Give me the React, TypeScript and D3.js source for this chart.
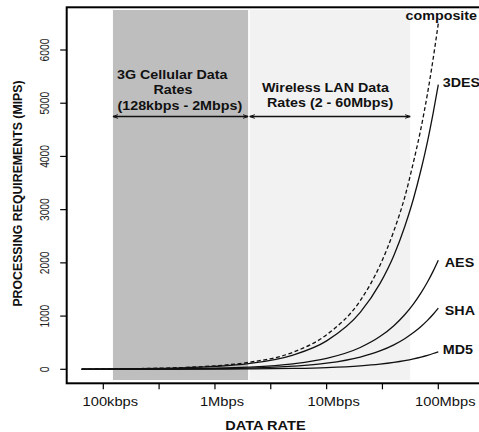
import React from "react";
import * as d3 from "d3";

// Data rate samples (Mbps)
const rates = [0.064, 0.1, 0.2, 0.5, 1, 2, 5, 10, 20, 30, 40, 50, 60, 70, 80, 90, 100];

// Processing requirements (MIPS)
const composite = [4, 6.5, 13, 32, 65, 130, 320, 650, 1290, 1950, 2600, 3230, 3900, 4530, 5180, 5840, 6500];
const des3 = [3.4, 5.4, 11, 27, 54, 107, 268, 535, 1070, 1610, 2140, 2680, 3210, 3750, 4280, 4820, 5350];
const aes = [1.3, 2, 4.1, 10, 20, 41, 103, 205, 410, 615, 820, 1025, 1230, 1435, 1640, 1845, 2050];
const sha = [0.7, 1.2, 2.3, 5.8, 11.5, 23, 58, 115, 230, 345, 460, 575, 690, 805, 920, 1035, 1150];
const md5 = [0.2, 0.3, 0.7, 1.7, 3.3, 6.6, 16.5, 33, 66, 99, 132, 165, 198, 231, 264, 297, 330];

const seriesNames = ["composite", "3DES", "AES", "SHA", "MD5"];
const seriesValues = [composite, des3, aes, sha, md5];

// Shaded ranges (Mbps)
const cellularRange = [0.122, 1.98];
const wlanRange = [2.05, 56];

// Axis ticks
const xMajorTicks = [0.1, 1, 10, 100];
const xMajorLabels = ["100kbps", "1Mbps", "10Mbps", "100Mbps"];
const xMinorTicks = [0.316, 3.16, 31.6];
const yTicks = [0, 1000, 2000, 3000, 4000, 5000, 6000];

const FONT = "'Liberation Sans', Arial, Helvetica, sans-serif";

export default function App() {
  const W = 479;
  const H = 432;
  const plotLeft = 66.7;
  const plotTop = 7.3;
  const plotBottom = 383.3;

  const x = d3.scaleLog().domain([0.1, 100]).range([103.3, 438.3]);
  const y = d3.scaleLinear().domain([0, 6000]).range([369.3, 50]);

  const line = d3
    .line<number>()
    .x((_, i) => x(rates[i]))
    .y((d) => y(d))
    .curve(d3.curveMonotoneX);

  const shadeTop = plotTop + 2.7;
  const shadeBottom = plotBottom - 3.3;
  const arrowY = 116.5;

  const arrow = (x1: number, x2: number, key: string) => {
    const h = 5;
    const w = 1.8;
    return (
      <g key={key} stroke="#111" strokeWidth={1.6} fill="none">
        <line x1={x1} y1={arrowY} x2={x2} y2={arrowY} />
        <path d={`M${x1 + h},${arrowY - w} L${x1},${arrowY} L${x1 + h},${arrowY + w}`} strokeWidth={1} />
        <path d={`M${x2 - h},${arrowY - w} L${x2},${arrowY} L${x2 - h},${arrowY + w}`} strokeWidth={1} />
      </g>
    );
  };

  const hText = (
    txt: string,
    tx: number,
    ty: number,
    opts: { anchor?: string; weight?: string; size?: number; sx?: number } = {}
  ) => (
    <g key={txt + tx + ty} transform={`translate(${tx},${ty}) scale(${opts.sx ?? 1.1},1)`}>
      <text
        x={0}
        y={0}
        textAnchor={opts.anchor ?? "start"}
        fontFamily={FONT}
        fontSize={opts.size ?? 13}
        fontWeight={opts.weight ?? "bold"}
        fill="#111"
      >
        {txt}
      </text>
    </g>
  );

  const endIdx = rates.length - 1;
  const labelDy = [-3.5, 2.5, 7, 7, 2.5];
  const labelDx = [3, 4.5, 6.5, 6.5, 4.5];

  return (
    <svg
      width={W}
      height={H}
      style={{ position: "absolute", left: 0, top: 0, background: "#fff" }}
    >
      <rect x={0} y={0} width={W} height={H} fill="#fff" />
      {/* shaded regions */}
      <rect
        x={x(cellularRange[0])}
        y={shadeTop}
        width={x(cellularRange[1]) - x(cellularRange[0])}
        height={shadeBottom - shadeTop}
        fill="#bebebe"
      />
      <rect
        x={x(wlanRange[0])}
        y={shadeTop}
        width={x(wlanRange[1]) - x(wlanRange[0])}
        height={shadeBottom - shadeTop}
        fill="#f2f2f2"
      />

      {/* annotations */}
      {hText("3G Cellular Data", 117, 78.5)}
      {hText("Rates", 173, 94.3, { anchor: "middle" })}
      {hText("(128kbps - 2Mbps)", 117.5, 110)}
      {arrow(x(cellularRange[0]), x(cellularRange[1]), "a1")}
      {hText("Wireless LAN Data", 262, 91.7)}
      {hText("Rates (2 - 60Mbps)", 267, 106.7)}
      {arrow(x(wlanRange[0]), x(wlanRange[1]), "a2")}

      {/* series */}
      {seriesValues.map((vals, i) => (
        <path
          key={seriesNames[i]}
          d={line(vals) ?? ""}
          fill="none"
          stroke="#111"
          strokeWidth={1.3}
          strokeDasharray={i === 0 ? "4,2.5" : undefined}
        />
      ))}
      {seriesValues.map((vals, i) =>
        hText(
          seriesNames[i],
          x(rates[endIdx]) + (i === 0 ? labelDx[0] : labelDx[i]),
          y(vals[endIdx]) + labelDy[i],
          { anchor: i === 0 ? "middle" : "start" }
        )
      )}

      {/* box */}
      <rect
        x={plotLeft}
        y={plotTop}
        width={W + 20 - plotLeft}
        height={plotBottom - plotTop}
        fill="none"
        stroke="#000"
        strokeWidth={2}
      />

      {/* y axis ticks */}
      {yTicks.map((t) => (
        <g key={"y" + t}>
          <line x1={plotLeft - 6.5} x2={plotLeft} y1={y(t)} y2={y(t)} stroke="#000" strokeWidth={1.2} />
          <g transform={`translate(48.8,${y(t)}) rotate(-90) scale(0.76,1)`}>
            <text textAnchor="middle" fontFamily={FONT} fontSize={13.5} fill="#222">
              {t}
            </text>
          </g>
        </g>
      ))}

      {/* x axis ticks */}
      {xMajorTicks.map((t, i) => (
        <g key={"x" + t}>
          <line x1={x(t)} x2={x(t)} y1={plotBottom} y2={plotBottom + 6} stroke="#000" strokeWidth={1.2} />
          {hText(xMajorLabels[i], x(t) + 7, 405.7, { anchor: "middle", weight: "normal", sx: 1.13 })}
        </g>
      ))}
      {xMinorTicks.map((t) => (
        <line key={"xm" + t} x1={x(t)} x2={x(t)} y1={plotBottom} y2={plotBottom + 6} stroke="#000" strokeWidth={1.2} />
      ))}

      {/* axis titles */}
      {hText("DATA RATE", 265.5, 429.5, { anchor: "middle", weight: "bold", sx: 1.12 })}
      <g transform={`translate(21.7,193.5) rotate(-90)`}>
        <text textAnchor="middle" fontFamily={FONT} fontSize={12.3} fontWeight="bold" fill="#111">
          PROCESSING REQUIREMENTS (MIPS)
        </text>
      </g>
    </svg>
  );
}
